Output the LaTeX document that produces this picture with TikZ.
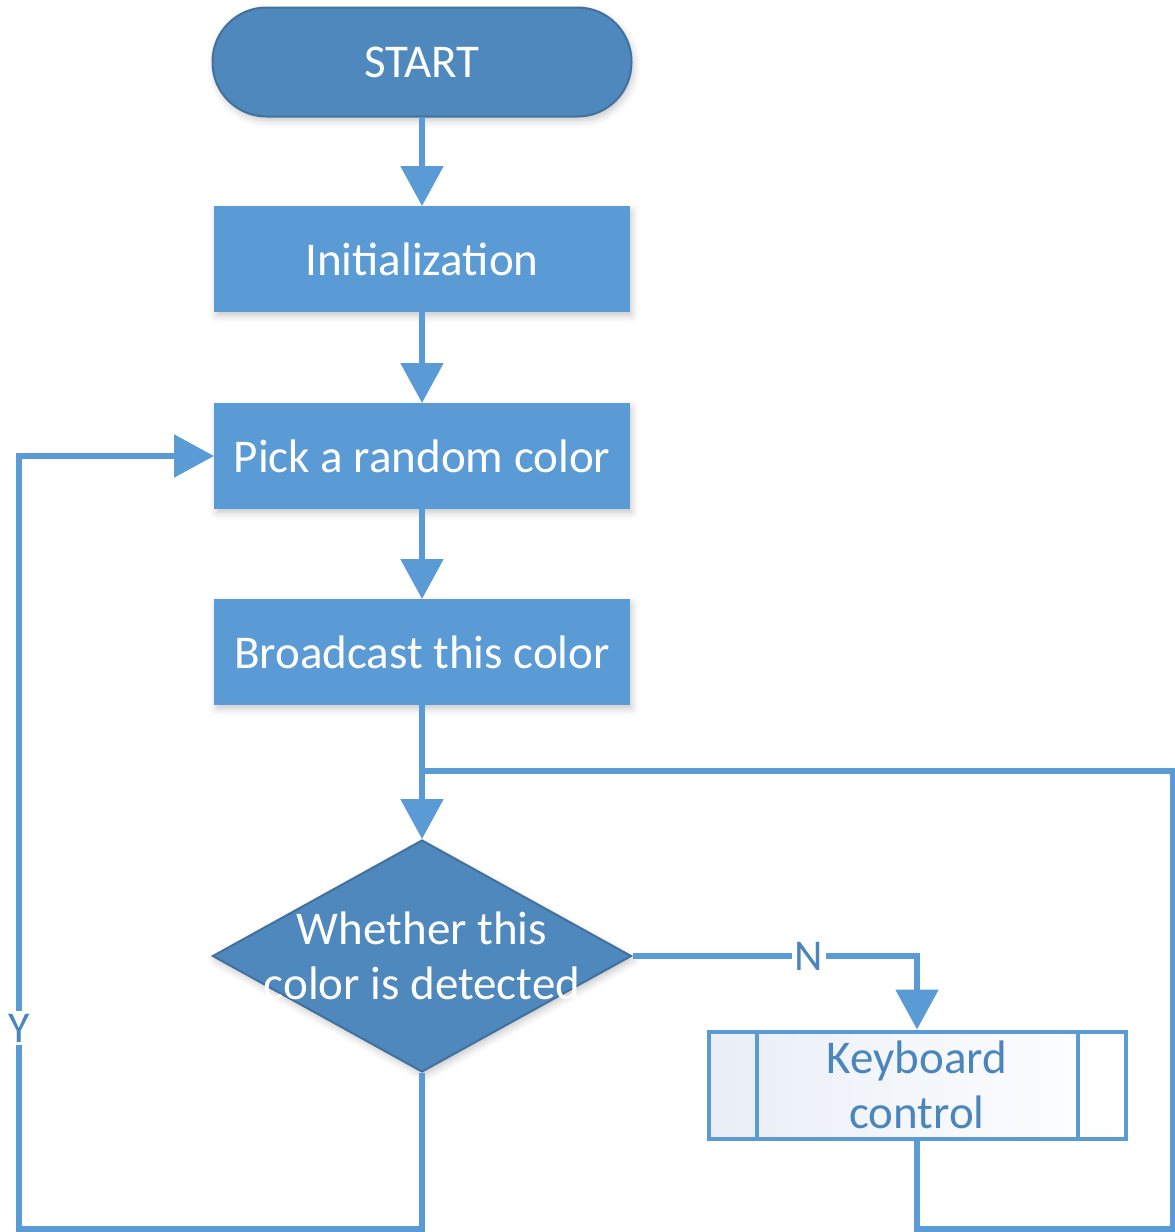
\documentclass[tikz,border=0pt]{standalone}
\usepackage{fontspec}
\setmainfont{Carlito}
\usetikzlibrary{arrows.meta,shapes.geometric,shadows.blur}
\definecolor{acc}{HTML}{5B9BD5}
\definecolor{dk}{HTML}{4E88BC}
\definecolor{dkb}{HTML}{41719C}
\definecolor{kbtxt}{HTML}{4A86BC}
\definecolor{kbfill}{HTML}{E9EEF7}
\begin{document}
\begin{tikzpicture}[x=1pt,y=-1pt,
  bigfont/.style={font=\fontsize{47}{55}\selectfont},
  softshadow/.style={blur shadow={shadow xshift=2pt,shadow yshift=-4pt,shadow blur radius=7pt,shadow opacity=22}},
  proc/.style={rectangle,fill=acc,draw=acc,line width=1pt,minimum width=415pt,minimum height=105pt,inner sep=0pt,text=white,bigfont,softshadow},
  term/.style={rectangle,rounded corners=54pt,fill=dk,draw=dkb,line width=2pt,minimum width=419pt,minimum height=109pt,inner sep=0pt,text=white,bigfont,softshadow},
  decision/.style={diamond,fill=dk,draw=dkb,line width=2pt,minimum width=419pt,minimum height=232pt,inner sep=0pt,softshadow},
  kbbox/.style={rectangle,draw=acc,line width=4pt,left color=kbfill,right color=white,minimum width=417pt,minimum height=107pt,inner sep=0pt,align=center,text=kbtxt,bigfont},
  conn/.style={draw=acc,line width=5.5pt,-{Triangle[length=40pt,width=42pt]}},
  lnk/.style={draw=acc,line width=5.5pt},
  lbl/.style={fill=white,text=kbtxt,inner sep=3pt,font=\fontsize{44}{50}\selectfont}
]
\useasboundingbox (0,0) rectangle (1175,1232);

\node[term] (start) at (422,62) {START};
\node[proc] (init) at (422,259) {Initialization};
\node[proc] (pick) at (422,456) {Pick a random color};
\node[proc] (bcast) at (422,652) {Broadcast this color};
\node[decision] (dec) at (422,956) {};
\node[align=center,text=white,bigfont,inner sep=0pt] (dectext) at (dec.center) {Whether this\\color is detected};
\node[kbbox] (kb) at (917,1085) {Keyboard\\control};
\draw[acc,line width=4pt] ([xshift=50pt]kb.north west) -- ([xshift=50pt]kb.south west);
\draw[acc,line width=4pt] ([xshift=-50pt]kb.north east) -- ([xshift=-50pt]kb.south east);

\coordinate (j) at (422,771);
\coordinate (rt) at (1173,771);
\coordinate (rb) at (1173,1229);
\coordinate (kbb) at (917,1229);
\coordinate (yb) at (422,1229);
\coordinate (lb) at (19,1229);
\coordinate (lt) at (19,456);

\draw[conn] (start) -- (init);
\draw[conn] (init) -- (pick);
\draw[conn] (pick) -- (bcast);
\draw[conn] (bcast) -- (dec.north);
\draw[lnk] (kb.south) -- (kbb) -- (rb) -- (rt) -- (j);
\draw[conn] (dec.east) -| node[pos=0.31,lbl] (nlab) {N} (kb.north);
\draw[conn] (dec.south) -- (yb) -- (lb) -- node[pos=0.26,lbl] (ylab) {Y} (lt) -- (pick.west);
\end{tikzpicture}
\end{document}
